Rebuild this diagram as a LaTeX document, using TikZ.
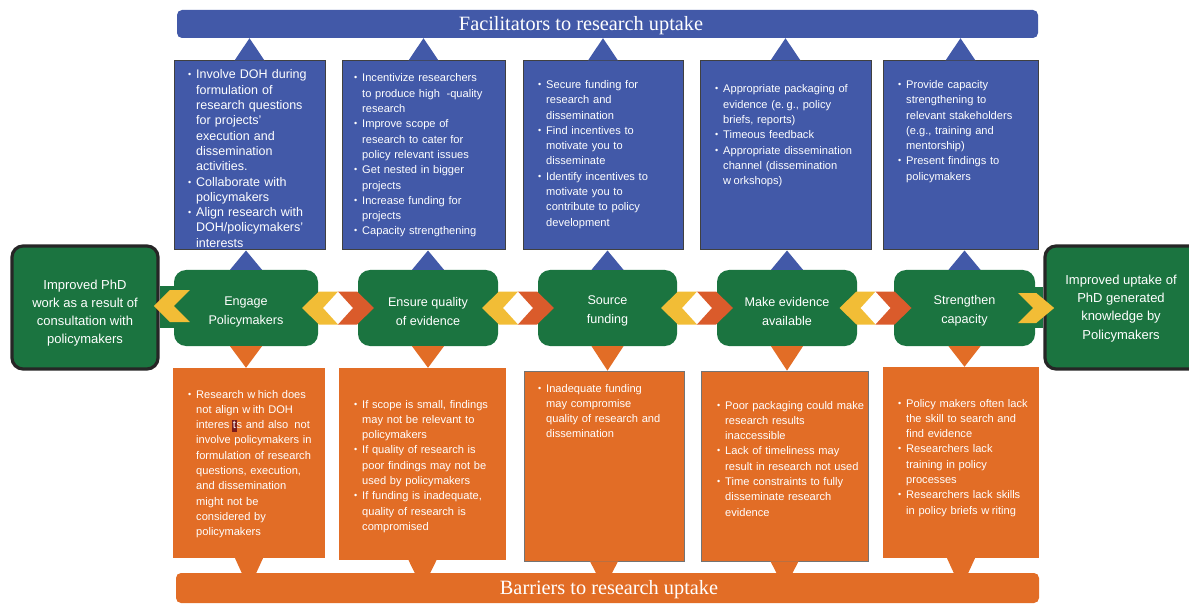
\documentclass[tikz,border=0pt]{standalone}
\usepackage{fontspec}
\setmainfont{Liberation Sans}
\newfontfamily\bannerfont{Liberation Serif}
\usetikzlibrary{fit, calc}

\definecolor{facblue}{HTML}{4259A8}
\definecolor{stepgreen}{HTML}{1B7440}
\definecolor{barorange}{HTML}{E26D26}
\definecolor{linkyellow}{HTML}{F2BD36}
\definecolor{linkred}{HTML}{DA5B2B}
\definecolor{hilite}{HTML}{7A1C1C}

% bullet item, lines broken by hand, hanging indent
\newcommand\bpt[1]{\hangindent=8pt\hangafter=1\noindent
  \makebox[8pt][l]{\raisebox{1pt}{\fontsize{9}{9}\selectfont\textbullet}}#1\par}
\newcommand\gp{\hspace{0.22em}}
\newcommand\hl[1]{{\setlength{\fboxsep}{0.6pt}\colorbox{hilite}{\vphantom{Ig}#1}}}

\tikzset{
  banner/.style={rounded corners=5pt, inner sep=0pt},
  bannertext/.style={text=white, inner sep=0pt, font=\bannerfont\fontsize{20.3}{24}\selectfont},
  bluebox/.style={fill=facblue, draw=black!75, line width=1pt, inner sep=0pt},
  orangebox/.style={fill=barorange, inner sep=0pt},
  stepbox/.style={fill=stepgreen, rounded corners=12pt, inner sep=0pt},
  endbox/.style={fill=stepgreen, draw=black!85, line width=3.2pt, rounded corners=11pt, inner sep=0pt},
  steptext/.style={text=white, align=center, font=\fontsize{12.6}{19}\selectfont},
  endtext/.style={text=white, align=center, font=\fontsize{13}{18.2}\selectfont},
  listtext/.style={anchor=base west, inner sep=0pt, text=white, text width=165pt, align=left,
    font=\fontsize{11.1}{15.3}\selectfont},
  chevy/.style={fill=linkyellow},
  chevr/.style={fill=linkred},
}

\begin{document}
\begin{tikzpicture}[x=1pt, y=-1pt]
  \useasboundingbox (0,0) rectangle (1189,604);
  \clip (0,0) rectangle (1189,604);

  % Banners
  \node[banner, fill=facblue, fit={(177,10) (1038,38)}] (facban) {};
  \node[bannertext] (factitle) at (581,25.5) {Facilitators to research uptake};
  \node[banner, fill=barorange, fit={(176,573) (1039,603)}] (barban) {};

  % Facilitator boxes
  \node[bluebox, fit={(174,61) (325,250)}] (fac1) {};
  \node[bluebox, fit={(342,61) (505,250)}] (fac2) {};
  \node[bluebox, fit={(523,61) (683,250)}] (fac3) {};
  \node[bluebox, fit={(700,61) (871,250)}] (fac4) {};
  \node[bluebox, fit={(883,61) (1038,250)}] (fac5) {};

  % Barrier boxes
  \node[orangebox, fit={(173,368) (325,558)}] (bar1) {};
  \node[orangebox, fit={(339,368) (506,560)}] (bar2) {};
  \node[orangebox, draw=black!55, line width=0.7pt, fit={(524,371) (684,561)}] (bar3) {};
  \node[orangebox, draw=black!55, line width=0.7pt, fit={(701,371) (868,561)}] (bar4) {};
  \node[orangebox, fit={(883,367) (1039,558)}] (bar5) {};

  % Steps
  \node[stepbox, fit={(174,270) (318,346)}] (st1) {};
  \node[stepbox, fit={(358,270) (498,346)}] (st2) {};
  \node[stepbox, fit={(538,270) (677,346)}] (st3) {};
  \node[stepbox, fit={(717,270) (857,346)}] (st4) {};
  \node[stepbox, fit={(894,270) (1035,346)}] (st5) {};
  \node[steptext] (st1tx) at ($(st1.center)+(0,3.5)$) {Engage\\Policymakers};
  \node[steptext] (st2tx) at ($(st2.center)+(0,3.5)$) {Ensure quality\\of evidence};
  \node[steptext] (st3tx) at ($(st3.center)+(0,3)$) {Source\\funding};
  \node[steptext] (st4tx) at ($(st4.center)+(0,3)$) {Make evidence\\available};
  \node[steptext] (st5tx) at ($(st5.center)+(0,3)$) {Strengthen\\capacity};

  % Outcomes at both ends
  \node[endbox, fit={(12,246) (158,369)}] (lend) {};
  \node[endtext] (lendtx) at (85,313) {Improved PhD\\work as a result of\\consultation with\\policymakers};
  \node[endbox, fit={(1045,246) (1200,369)}] (rend) {};
  \node[endtext] (rendtx) at (1121,308.5) {Improved uptake of\\PhD generated\\knowledge by\\Policymakers};

  % Triangles: step -> facilitator box -> banner
  \fill[facblue] ($(st1.north)+(-16,0)$) -- ($(st1.north)+(16,0)$) -- (st1.north |- fac1.south) -- cycle;
  \fill[facblue] ($(st2.north)+(-16,0)$) -- ($(st2.north)+(16,0)$) -- (st2.north |- fac2.south) -- cycle;
  \fill[facblue] ($(st3.north)+(-16,0)$) -- ($(st3.north)+(16,0)$) -- (st3.north |- fac3.south) -- cycle;
  \fill[facblue] ($(st4.north)+(-16,0)$) -- ($(st4.north)+(16,0)$) -- (st4.north |- fac4.south) -- cycle;
  \fill[facblue] ($(st5.north)+(-16,0)$) -- ($(st5.north)+(16,0)$) -- (st5.north |- fac5.south) -- cycle;
  \fill[facblue] ($(fac1.north)+(-15,0)$) -- ($(fac1.north)+(15,0)$) -- (fac1.north |- facban.south) -- cycle;
  \fill[facblue] ($(fac2.north)+(-15,0)$) -- ($(fac2.north)+(15,0)$) -- (fac2.north |- facban.south) -- cycle;
  \fill[facblue] ($(fac3.north)+(-15,0)$) -- ($(fac3.north)+(15,0)$) -- (fac3.north |- facban.south) -- cycle;
  \fill[facblue] ($(fac4.north)+(-15,0)$) -- ($(fac4.north)+(15,0)$) -- (fac4.north |- facban.south) -- cycle;
  \fill[facblue] ($(fac5.north)+(-15,0)$) -- ($(fac5.north)+(15,0)$) -- (fac5.north |- facban.south) -- cycle;

  % Triangles: step -> barrier box -> banner
  \fill[barorange] ($(st1.south)+(-16,0)$) -- ($(st1.south)+(16,0)$) -- (st1.south |- bar1.north) -- cycle;
  \fill[barorange] ($(st2.south)+(-16,0)$) -- ($(st2.south)+(16,0)$) -- (st2.south |- bar2.north) -- cycle;
  \fill[barorange] ($(st3.south)+(-16,0)$) -- ($(st3.south)+(16,0)$) -- (st3.south |- bar3.north) -- cycle;
  \fill[barorange] ($(st4.south)+(-16,0)$) -- ($(st4.south)+(16,0)$) -- (st4.south |- bar4.north) -- cycle;
  \fill[barorange] ($(st5.south)+(-16,0)$) -- ($(st5.south)+(16,0)$) -- (st5.south |- bar5.north) -- cycle;
  \fill[barorange] ($(bar1.south)+(-14,0)$) -- ($(bar1.south)+(14,0)$) -- ($(bar1.south |- barban.north)+(0,16)$) -- cycle;
  \fill[barorange] ($(bar2.south)+(-14,0)$) -- ($(bar2.south)+(14,0)$) -- ($(bar2.south |- barban.north)+(0,16)$) -- cycle;
  \fill[barorange] ($(bar3.south)+(-14,0)$) -- ($(bar3.south)+(14,0)$) -- ($(bar3.south |- barban.north)+(0,16)$) -- cycle;
  \fill[barorange] ($(bar4.south)+(-14,0)$) -- ($(bar4.south)+(14,0)$) -- ($(bar4.south |- barban.north)+(0,16)$) -- cycle;
  \fill[barorange] ($(bar5.south)+(-14,0)$) -- ($(bar5.south)+(14,0)$) -- ($(bar5.south |- barban.north)+(0,16)$) -- cycle;
  \node[bannertext] (bartitle) at (609,589.5) {Barriers to research uptake};

  % Links between steps (yellow back, red forward)
  \coordinate (l12) at ($(st1.east)!0.5!(st2.west)$);
  \coordinate (l23) at ($(st2.east)!0.5!(st3.west)$);
  \coordinate (l34) at ($(st3.east)!0.5!(st4.west)$);
  \coordinate (l45) at ($(st4.east)!0.5!(st5.west)$);
  \fill[chevy] ($(l12)+(-36,0)$) -- ++(17,-16.5) -- ++(19,0) -- ++(-15,16.5) -- ++(15,16.5) -- ++(-19,0) -- cycle;
  \fill[chevr] ($(l12)+(0,-16.5)$) -- ++(19,0) -- ++(17,16.5) -- ++(-17,16.5) -- ++(-19,0) -- ++(15,-16.5) -- cycle;
  \fill[chevy] ($(l23)+(-36,0)$) -- ++(17,-16.5) -- ++(19,0) -- ++(-15,16.5) -- ++(15,16.5) -- ++(-19,0) -- cycle;
  \fill[chevr] ($(l23)+(0,-16.5)$) -- ++(19,0) -- ++(17,16.5) -- ++(-17,16.5) -- ++(-19,0) -- ++(15,-16.5) -- cycle;
  \fill[chevy] ($(l34)+(-36,0)$) -- ++(17,-16.5) -- ++(19,0) -- ++(-15,16.5) -- ++(15,16.5) -- ++(-19,0) -- cycle;
  \fill[chevr] ($(l34)+(0,-16.5)$) -- ++(19,0) -- ++(17,16.5) -- ++(-17,16.5) -- ++(-19,0) -- ++(15,-16.5) -- cycle;
  \fill[chevy] ($(l45)+(-36,0)$) -- ++(17,-16.5) -- ++(19,0) -- ++(-15,16.5) -- ++(15,16.5) -- ++(-19,0) -- cycle;
  \fill[chevr] ($(l45)+(0,-16.5)$) -- ++(19,0) -- ++(17,16.5) -- ++(-17,16.5) -- ++(-19,0) -- ++(15,-16.5) -- cycle;

  % Links to the outcomes
  \fill[stepgreen] ($(lend.east)+(0,-22)$) rectangle ($(st1.west)+(2,20)$);
  \fill[chevy] ($(st1.west)+(-20,-2)$) -- ++(16,-16) -- ++(20,0) -- ++(-16,16) -- ++(16,16) -- ++(-20,0) -- cycle;
  \fill[stepgreen] ($(st5.east)+(-4,-21)$) rectangle ($(rend.west)+(0,20)$);
  \fill[chevy] ($(st5.east)+(-17,-15)$) -- ++(18,0) -- ++(18,15) -- ++(-18,15) -- ++(-18,0) -- ++(15,-15) -- cycle;

  % Facilitator lists
  \node[listtext, font=\fontsize{12.5}{15.3}\selectfont] (factx1) at (188,79) {%
    \bpt{Involve DOH during\newline formulation of\newline research questions\newline for projects'\newline execution and\newline dissemination\newline activities.}%
    \bpt{Collaborate with\newline policymakers}%
    \bpt{Align research with\newline DOH/policymakers'\newline interests}};
  \node[listtext] (factx2) at (354,82) {%
    \bpt{Incentivize researchers\newline to produce high\hspace{0.6em}-quality\newline research}%
    \bpt{Improve scope of\newline research to cater for\newline policy relevant issues}%
    \bpt{Get nested in bigger\newline projects}%
    \bpt{Increase funding for\newline projects}%
    \bpt{Capacity strengthening}};
  \node[listtext] (factx3) at (538,88.5) {%
    \bpt{Secure funding for\newline research and\newline dissemination}%
    \bpt{Find incentives to\newline motivate you to\newline disseminate}%
    \bpt{Identify incentives to\newline motivate you to\newline contribute to policy\newline development}};
  \node[listtext] (factx4) at (715,93) {%
    \bpt{Appropriate packaging of\newline evidence (e.\gp g., policy\newline briefs, reports)}%
    \bpt{Timeous feedback}%
    \bpt{Appropriate dissemination\newline channel (dissemination\newline w\gp orkshops)}};
  \node[listtext] (factx5) at (898,88.5) {%
    \bpt{Provide capacity\newline strengthening to\newline relevant stakeholders\newline (e.g., training and\newline mentorship)}%
    \bpt{Present findings to\newline policymakers}};

  % Barrier lists
  \node[listtext] (bartx1) at (188,398) {%
    \bpt{Research w\gp hich does\newline not align w\gp ith DOH\newline interes\hspace{0.25em}\hl{t}s and also\hspace{0.55em}not\newline involve policymakers in\newline formulation of research\newline questions, execution,\newline and dissemination\newline might not be\newline considered by\newline policymakers}};
  \node[listtext] (bartx2) at (354,408) {%
    \bpt{If scope is small, findings\newline may not be relevant to\newline policymakers}%
    \bpt{If quality of research is\newline poor findings may not be\newline used by policymakers}%
    \bpt{If funding is inadequate,\newline quality of research is\newline compromised}};
  \node[listtext] (bartx3) at (538,392) {%
    \bpt{Inadequate funding\newline may compromise\newline quality of research and\newline dissemination}};
  \node[listtext] (bartx4) at (717,409) {%
    \bpt{Poor packaging could make\newline research results\newline inaccessible}%
    \bpt{Lack of timeliness may\newline result in research not used}%
    \bpt{Time constraints to fully\newline disseminate research\newline evidence}};
  \node[listtext] (bartx5) at (898,407) {%
    \bpt{Policy makers often lack\newline the skill to search and\newline find evidence}%
    \bpt{Researchers lack\newline training in policy\newline processes}%
    \bpt{Researchers lack skills\newline in policy briefs w\gp riting}};
\end{tikzpicture}
\end{document}
